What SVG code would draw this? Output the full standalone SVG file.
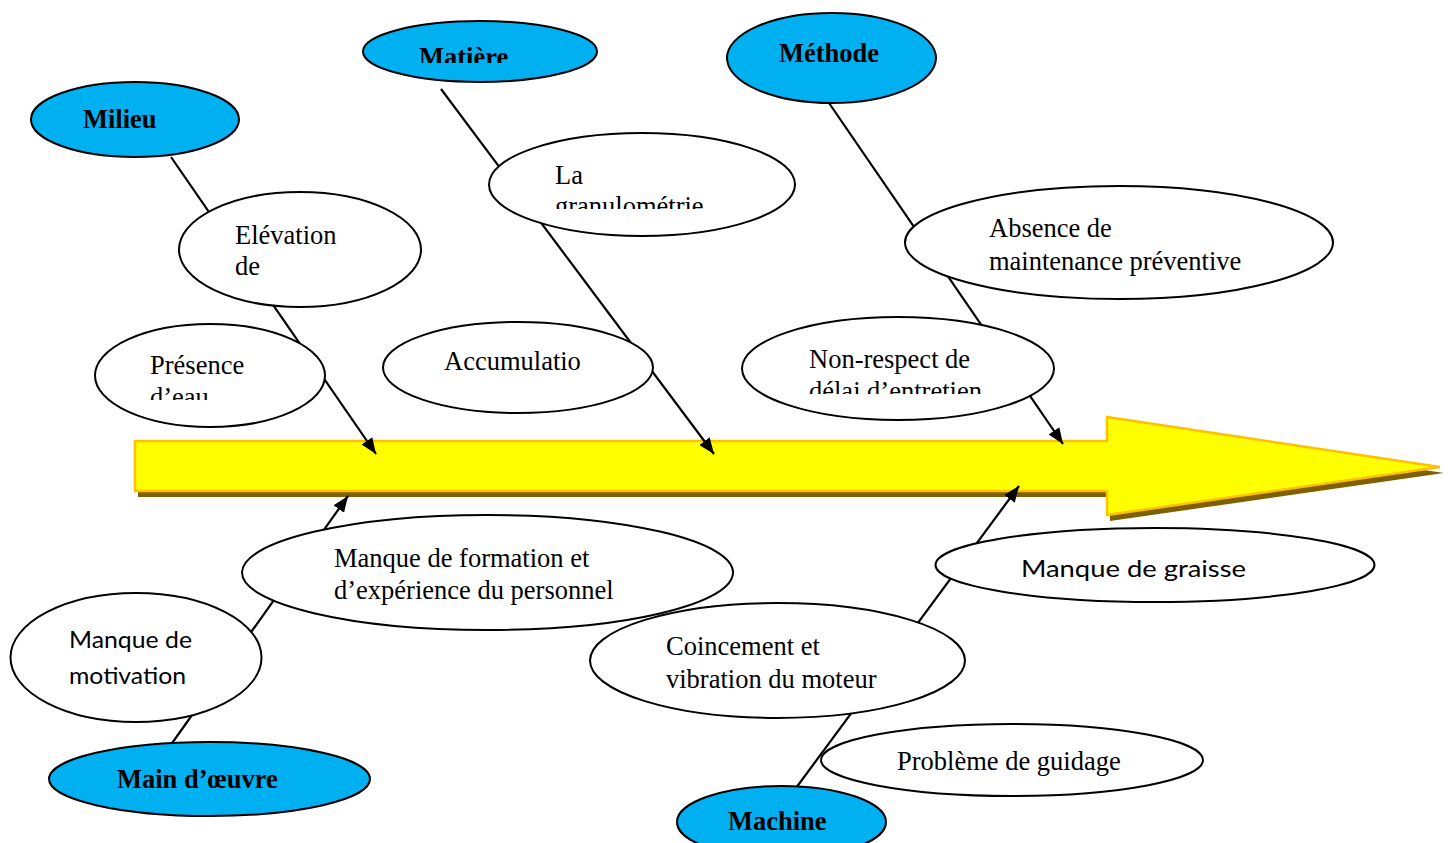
<svg xmlns="http://www.w3.org/2000/svg" width="1448" height="843" viewBox="0 0 1448 843">
<style>
.cat{fill:#00B0F0;stroke:#000;stroke-width:2}
.cause{fill:#fff;stroke:#000;stroke-width:2}
.tb{font-family:"Liberation Serif",serif;font-weight:bold;font-size:26.5px;fill:#000}
.t{font-family:"Liberation Serif",serif;font-size:26.5px;fill:#000}
.c{font-family:Lato,"Liberation Sans",sans-serif;font-size:24px;fill:#000}
.ln{stroke:#000;stroke-width:2.2;fill:none}
</style>
<defs>
<marker id="ah" markerUnits="userSpaceOnUse" markerWidth="17" markerHeight="13" refX="16" refY="6.5" orient="auto">
<path d="M0,0 L16,6.5 L0,13 z" fill="#000"/>
</marker>
<clipPath id="cMat"><rect x="0" y="0" width="1448" height="63"/></clipPath>
<clipPath id="cGra"><rect x="0" y="0" width="1448" height="209"/></clipPath>
<clipPath id="cEau"><rect x="0" y="0" width="1448" height="400"/></clipPath>
<clipPath id="cDel"><rect x="0" y="0" width="1448" height="394"/></clipPath>
</defs>
<rect width="1448" height="843" fill="#fff"/>

<g id="arrow">
<path d="M138,447 H1110 V423 L1444,473 L1110,521 V497 H138 Z" fill="#7F6000"/>
<path d="M135,441 H1107 V417 L1440,467 L1107,515 V491 H135 Z" fill="#FFFF00" stroke="#FFC000" stroke-width="2.5"/>
</g>

<g id="connectors">
<line class="ln" x1="171" y1="157" x2="376" y2="454" marker-end="url(#ah)"/>
<line class="ln" x1="441" y1="89" x2="714" y2="454" marker-end="url(#ah)"/>
<line class="ln" x1="829" y1="103" x2="1063" y2="444" marker-end="url(#ah)"/>
<line class="ln" x1="170" y1="746" x2="348" y2="496" marker-end="url(#ah)"/>
<line class="ln" x1="796" y1="788" x2="1019" y2="486" marker-end="url(#ah)"/>
</g>

<g id="milieu"><ellipse class="cat" cx="135" cy="119.5" rx="104" ry="37.5"/><text class="tb" x="83" y="128">Milieu</text></g>
<g id="matiere"><ellipse class="cat" cx="480" cy="51.5" rx="117" ry="30.5"/><text class="tb" x="419" y="66" clip-path="url(#cMat)">Matière</text></g>
<g id="methode"><ellipse class="cat" cx="831.5" cy="58" rx="104.5" ry="45"/><text class="tb" x="779" y="62">Méthode</text></g>
<g id="main-oeuvre"><ellipse class="cat" cx="209.5" cy="779" rx="160.5" ry="37"/><text class="tb" x="117" y="788">Main d’œuvre</text></g>
<g id="machine"><ellipse class="cat" cx="781.5" cy="822" rx="104.5" ry="36"/><text class="tb" x="728" y="830">Machine</text></g>

<g id="elevation"><ellipse class="cause" cx="300" cy="249.5" rx="121" ry="57.5"/><text class="t" x="235" y="244">Elévation</text><text class="t" x="235" y="275">de</text></g>
<g id="granulometrie"><ellipse class="cause" cx="642" cy="184.5" rx="153" ry="51.5"/><text class="t" x="555" y="184">La</text><text class="t" x="555" y="215" clip-path="url(#cGra)">granulométrie</text></g>
<g id="absence"><ellipse class="cause" cx="1119" cy="242.5" rx="214" ry="56.5"/><text class="t" x="989" y="237">Absence de</text><text class="t" x="989" y="270">maintenance préventive</text></g>
<g id="presence"><ellipse class="cause" cx="210" cy="375.5" rx="115" ry="51.5"/><text class="t" x="150" y="374">Présence</text><text class="t" x="150" y="406" clip-path="url(#cEau)">d’eau</text></g>
<g id="accumulation"><ellipse class="cause" cx="518" cy="367.5" rx="135" ry="45.5"/><text class="t" x="444" y="370">Accumulatio</text></g>
<g id="non-respect"><ellipse class="cause" cx="898" cy="368.5" rx="156" ry="51.5"/><text class="t" x="809" y="368">Non-respect de</text><text class="t" x="809" y="400" clip-path="url(#cDel)">délai d’entretien</text></g>
<g id="formation"><ellipse class="cause" cx="487.5" cy="572.5" rx="245.5" ry="57.5"/><text class="t" x="334" y="567">Manque de formation et</text><text class="t" x="334" y="599">d’expérience du personnel</text></g>
<g id="coincement"><ellipse class="cause" cx="777.5" cy="660.5" rx="187.5" ry="57.5"/><text class="t" x="666" y="655">Coincement et</text><text class="t" x="666" y="688">vibration du moteur</text></g>
<g id="motivation"><ellipse class="cause" cx="136" cy="657.5" rx="125.5" ry="64.5"/><text class="c" x="69" y="648" textLength="123" lengthAdjust="spacingAndGlyphs">Manque de</text><text class="c" x="69" y="684" textLength="117" lengthAdjust="spacingAndGlyphs">motivation</text></g>
<g id="graisse"><ellipse class="cause" cx="1155" cy="565" rx="219.5" ry="37"/><text class="c" x="1021" y="577" textLength="225" lengthAdjust="spacingAndGlyphs">Manque de graisse</text></g>
<g id="guidage"><ellipse class="cause" cx="1012" cy="760" rx="191" ry="36"/><text class="t" x="897" y="770">Problème de guidage</text></g>
</svg>
